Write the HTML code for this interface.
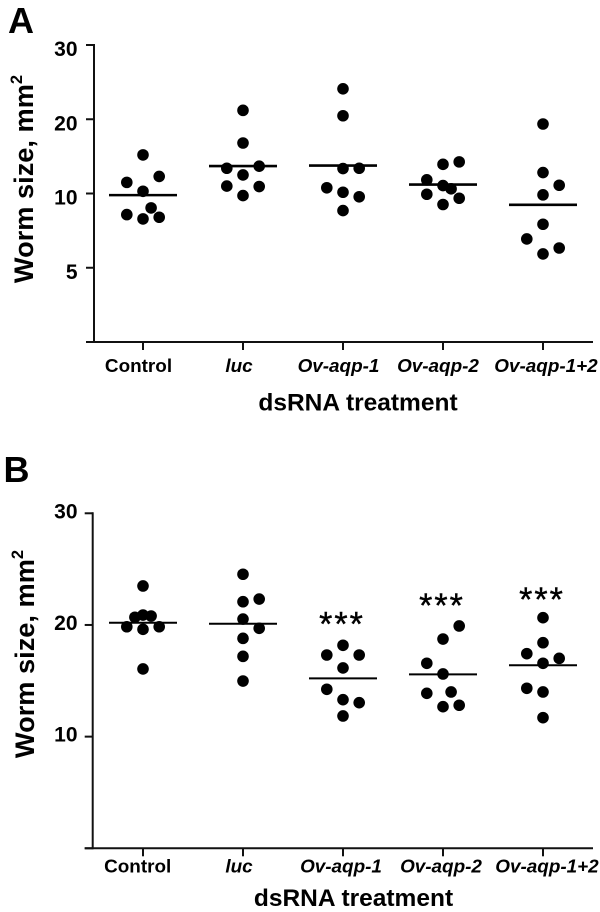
<!DOCTYPE html>
<html lang="en">
<head>
<meta charset="utf-8">
<title>Worm size by dsRNA treatment</title>
<style>
  html, body { margin: 0; padding: 0; background: #fff; }
  svg { display: block; font-family: "Liberation Sans", Arial, sans-serif; font-weight: bold; fill: #000; }
</style>
</head>
<body>
<svg id="chart" xmlns="http://www.w3.org/2000/svg" width="600" height="912" viewBox="0 0 600 912">
  <rect x="0" y="0" width="600" height="912" fill="#fff"/>
  <text x="8" y="33" font-size="36">A</text>
  <text x="3.5" y="482" font-size="36">B</text>
  <text transform="translate(33,179) rotate(-90)" text-anchor="middle" font-size="27.2">Worm size, mm<tspan font-size="16.5" dy="-11">2</tspan></text>
  <text transform="translate(34,654) rotate(-90)" text-anchor="middle" font-size="27.2">Worm size, mm<tspan font-size="16.5" dy="-11">2</tspan></text>
  <text x="358" y="410.5" text-anchor="middle" font-size="24.5">dsRNA treatment</text>
  <text x="353.5" y="906" text-anchor="middle" font-size="24.5">dsRNA treatment</text>
</svg>
<script>
// ---- Data ----
const categories = ["Control", "luc", "Ov-aqp-1", "Ov-aqp-2", "Ov-aqp-1+2"];

const ticksA = [0, 5, 10, 20, 30];
const ticksB = [0, 10, 20, 30];

const controlA = [15.2, 12.3, 11.5, 10.3, 9.03, 8.58, 8.4, 8.29];
const lucA = [21.2, 16.8, 13.4, 13.68, 12.5, 11.0, 10.94, 9.86];
const aqp1A = [24.1, 20.47, 13.36, 13.4, 10.77, 10.17, 9.78, 8.85];
const aqp2A = [13.93, 14.26, 11.84, 11.07, 10.63, 9.95, 9.68, 9.26];
const aqp12A = [19.36, 12.82, 11.11, 9.91, 7.93, 6.94, 6.33, 5.93];
const meansA = [9.89, 13.7, 13.76, 11.2, 9.24];

const controlB = [23.49, 20.69, 20.89, 20.8, 19.84, 19.61, 19.84, 16.06];
const lucB = [24.54, 22.32, 22.08, 20.53, 19.7, 18.8, 17.19, 14.98];
const aqp1B = [18.18, 17.31, 17.31, 16.15, 14.24, 13.31, 13.04, 11.85];
const aqp2B = [19.91, 18.74, 16.57, 15.61, 13.88, 14.0, 12.81, 12.68];
const aqp12B = [20.65, 18.41, 17.43, 17.01, 16.57, 14.33, 14.0, 11.7];
const meansB = [20.2, 20.11, 15.22, 15.58, 16.39];

// Scatter-column bin of each point (negative = left of the category centre)
const binsA = [
  [0, 2, -2, 0, 1, -2, 2, 0],
  [0, 0, -2, 2, 0, -2, 2, 0],
  [0, 0, 0, 2, -2, 0, 2, 0],
  [0, 2, -2, 0, 1, -2, 2, 0],
  [0, 0, 2, 0, 0, -2, 2, 0]
];
const binsB = [
  [0, -1, 0, 1, -2, 0, 2, 0],
  [0, 2, 0, 0, 2, 0, 0, 0],
  [0, -2, 2, 0, -2, 0, 2, 0],
  [2, 0, -2, 0, -2, 1, 2, 0],
  [0, 0, -2, 2, 0, -2, 0, 0]
];

// Significance markers in panel B: category index and the value level they sit at
const starCategories = [2, 3, 4];
const starLevels = [20.53, 22.17, 22.75];

const seriesA = [controlA, lucA, aqp1A, aqp2A, aqp12A];
const seriesB = [controlB, lucB, aqp1B, aqp2B, aqp12B];

// ---- Drawing ----
const NS = "http://www.w3.org/2000/svg";
const svg = document.getElementById("chart");

function makeEl(tag, parent) {
  const el = document.createElementNS(NS, tag);
  parent.appendChild(el);
  return el;
}

// Axis with evenly spaced ticks, linear between neighbouring ticks
function yAxisFn(ticks, bottom, step) {
  return function (v) {
    let i = 0;
    while (i < ticks.length - 2 && v > ticks[i + 1]) i++;
    const frac = (v - ticks[i]) / (ticks[i + 1] - ticks[i]);
    return bottom - step * (i + frac);
  };
}
function xAxisFn(start, step) {
  return function (i) { return start + step * i; };
}

function drawPanel(p) {
  const g = makeEl("g", svg);
  
  
  const y = yAxisFn(p.ticks, p.bottom, p.step);
  const x = xAxisFn(143, 100);

  const yLine = makeEl("line", g);
  
  
  yLine.setAttribute("x1", p.axisX);
  yLine.setAttribute("x2", p.axisX);
  yLine.setAttribute("y1", y(p.ticks[p.ticks.length - 1]) - 1);
  yLine.setAttribute("y2", p.bottom + 1);
  yLine.setAttribute("stroke", "#111");
  yLine.setAttribute("stroke-width", "2");

  const xLine = makeEl("line", g);
  
  
  xLine.setAttribute("x1", p.axisX - 8);
  xLine.setAttribute("x2", 593);
  xLine.setAttribute("y1", p.bottom);
  xLine.setAttribute("y2", p.bottom);
  xLine.setAttribute("stroke", "#111");
  xLine.setAttribute("stroke-width", "2");

  p.ticks.forEach(function (t) {
    const tick = makeEl("line", g);
    
    
    tick.setAttribute("x1", p.axisX - 8);
    tick.setAttribute("x2", p.axisX);
    tick.setAttribute("y1", y(t));
    tick.setAttribute("y2", y(t));
    tick.setAttribute("stroke", "#111");
    tick.setAttribute("stroke-width", "2");
    if (t !== 0) {
      const label = makeEl("text", g);
      
      
      label.setAttribute("x", 77.5);
      label.setAttribute("y", y(t) + p.tickLabelDy);
      label.setAttribute("text-anchor", "end");
      label.setAttribute("font-size", "21");
      label.textContent = t;
    }
  });

  categories.forEach(function (c, i) {
    const tick = makeEl("line", g);
    
    
    tick.setAttribute("x1", x(i));
    tick.setAttribute("x2", x(i));
    tick.setAttribute("y1", p.bottom);
    tick.setAttribute("y2", p.bottom + 8);
    tick.setAttribute("stroke", "#111");
    tick.setAttribute("stroke-width", "2");

    const label = makeEl("text", g);
    
    
    label.setAttribute("x", x(i) + p.labelShift[i]);
    label.setAttribute("y", p.labelY);
    label.setAttribute("text-anchor", "middle");
    label.setAttribute("font-size", "18.9");
    if (i > 0) label.setAttribute("font-style", "italic");
    label.textContent = c;

    p.series[i].forEach(function (v, j) {
      const dot = makeEl("circle", g);
      
      
      dot.setAttribute("cx", x(i) + p.bins[i][j] * 8.1);
      dot.setAttribute("cy", y(v));
      dot.setAttribute("r", "5.8");
      dot.setAttribute("fill", "#000");
    });

    const mean = makeEl("line", g);
    
    
    mean.setAttribute("x1", x(i) - 34);
    mean.setAttribute("x2", x(i) + 34);
    mean.setAttribute("y1", y(p.means[i]));
    mean.setAttribute("y2", y(p.means[i]));
    mean.setAttribute("stroke", "#000");
    mean.setAttribute("stroke-width", p.meanWidth);
  });

  return { x: x, y: y, g: g };
}

drawPanel({
  name: "panel-a", ticks: ticksA, bottom: 342, step: 74.25, axisX: 94,
  series: seriesA, means: meansA, bins: binsA, meanWidth: 2.6,
  tickLabelDy: 11, labelY: 372, labelShift: [-4.5, -4, -4.5, -5, 3]
});

const panelB = drawPanel({
  name: "panel-b", ticks: ticksB, bottom: 848.3, step: 111.67, axisX: 92.7,
  series: seriesB, means: meansB, bins: binsB, meanWidth: 2,
  tickLabelDy: 5, labelY: 872.3, labelShift: [-5.3, -4, -2, -2, 4]
});

starCategories.forEach(function (c, i) {
  const star = makeEl("text", panelB.g);
  
  
  star.setAttribute("x", panelB.x(c) - 1);
  star.setAttribute("y", panelB.y(starLevels[i]) + 16.5);
  star.setAttribute("text-anchor", "middle");
  star.setAttribute("font-size", "34");
  star.setAttribute("font-weight", "normal");
  star.setAttribute("letter-spacing", "2");
  star.setAttribute("stroke", "#000");
  star.setAttribute("stroke-width", "0.4");
  star.textContent = "***";
});
</script>
</body>
</html>
